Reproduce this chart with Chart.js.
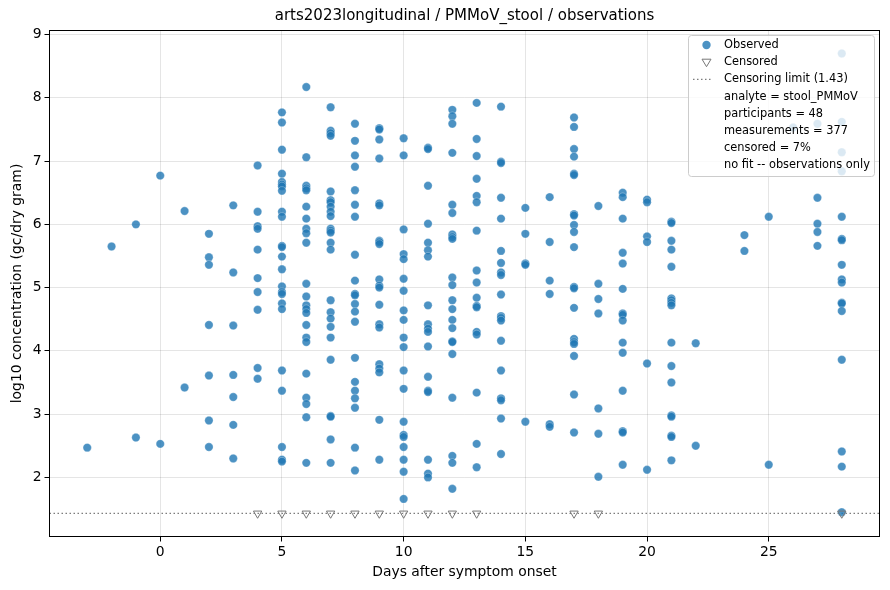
<!DOCTYPE html>
<html><head><meta charset="utf-8">
<script src="https://cdn.jsdelivr.net/npm/chart.js@4.4.0/dist/chart.umd.min.js"></script>
<style>html,body{margin:0;padding:0;background:#fff}#wrap{width:890px;height:590px;position:relative}</style>
</head><body><div id="wrap"><canvas id="c" width="890" height="590"></canvas></div>
<script>
const TITLE = "arts2023longitudinal / PMMoV_stool / observations";
const X_LABEL = "Days after symptom onset";
const Y_LABEL = "log10 concentration (gc/dry gram)";
const X_TICKS = [0, 5, 10, 15, 20, 25];
const Y_TICKS = [2, 3, 4, 5, 6, 7, 8, 9];
const X_RANGE = [-4.55, 29.55];
const Y_RANGE = [1.066, 9.064];
const CENS_LIMIT = 1.43;

// observed measurements (day, log10 value), grouped per day
const obsDay = [];
const obsValue = [];
function addDay(d, vals) { vals.forEach(v => { obsDay.push(d); obsValue.push(v); }); }
addDay(-3, [2.47]);
addDay(-2, [5.65]);
addDay(-1, [6.00, 2.63]);
addDay(0, [6.77, 2.53]);
addDay(1, [6.21, 3.42]);
addDay(2, [5.85, 5.48, 5.36, 4.41, 3.61, 2.90, 2.48]);
addDay(3, [6.30, 5.24, 4.40, 3.62, 3.27, 2.83, 2.30]);
addDay(4, [6.93, 6.20, 5.97, 5.93, 5.60, 5.15, 4.93, 4.65, 3.73, 3.56]);
addDay(5, [7.77, 7.61, 7.18, 6.80, 6.67, 6.63, 6.60, 6.53, 6.20, 6.12, 5.66, 5.64, 5.49, 5.29, 5.02, 4.93, 4.90, 4.75, 4.66, 3.69, 3.37, 2.48, 2.28, 2.25]);
addDay(6, [8.17, 7.06, 6.61, 6.57, 6.54, 6.28, 6.09, 5.93, 5.86, 5.71, 5.06, 4.86, 4.72, 4.66, 4.60, 4.41, 4.21, 4.14, 3.64, 3.26, 3.16, 2.95, 2.23]);
addDay(7, [7.85, 7.48, 7.44, 7.40, 6.52, 6.38, 6.35, 6.28, 6.20, 6.13, 5.93, 5.90, 5.87, 5.71, 5.60, 4.80, 4.61, 4.51, 4.38, 4.21, 3.86, 2.97, 2.96, 2.60, 2.23]);
addDay(8, [7.59, 7.32, 7.09, 6.91, 6.54, 6.31, 6.12, 5.52, 5.11, 4.90, 4.88, 4.74, 4.62, 4.46, 3.89, 3.51, 3.37, 3.25, 3.10, 2.47, 2.11]);
addDay(9, [7.52, 7.50, 7.34, 7.04, 6.33, 6.30, 5.74, 5.72, 5.69, 5.13, 5.03, 5.00, 4.73, 4.42, 4.37, 3.79, 3.72, 3.66, 2.91, 2.28]);
addDay(10, [7.36, 7.09, 5.92, 5.53, 5.45, 5.14, 4.95, 4.64, 4.49, 4.21, 4.06, 3.69, 3.40, 2.88, 2.67, 2.64, 2.48, 2.28, 2.09, 1.66]);
addDay(11, [7.21, 7.19, 6.61, 6.01, 5.71, 5.59, 5.49, 4.72, 4.42, 4.35, 4.30, 4.07, 3.59, 3.37, 3.35, 2.28, 2.06, 2.00]);
addDay(12, [7.81, 7.71, 7.59, 7.13, 6.31, 6.18, 5.84, 5.80, 5.77, 5.16, 5.04, 4.80, 4.66, 4.49, 4.36, 4.15, 4.14, 3.95, 3.26, 2.34, 2.23, 1.82]);
addDay(13, [7.92, 7.35, 7.08, 6.72, 6.45, 6.35, 5.90, 5.27, 5.08, 4.84, 4.71, 4.69, 4.30, 4.26, 3.34, 2.53, 2.16]);
addDay(14, [7.86, 6.99, 6.97, 6.42, 6.09, 5.58, 5.39, 5.24, 5.20, 4.89, 4.55, 4.52, 4.48, 4.16, 3.69, 3.25, 3.22, 2.93, 2.37]);
addDay(15, [6.26, 5.85, 5.38, 5.36, 2.88]);
addDay(16, [6.43, 5.72, 5.11, 4.90, 2.84, 2.80]);
addDay(17, [7.69, 7.54, 7.19, 7.07, 6.80, 6.78, 6.16, 6.14, 5.99, 5.88, 5.64, 5.01, 4.99, 4.68, 4.19, 4.14, 4.11, 3.92, 3.31, 2.71]);
addDay(18, [6.29, 5.06, 4.82, 4.59, 3.09, 2.69, 2.01]);
addDay(19, [6.50, 6.43, 6.09, 5.55, 5.38, 4.98, 4.59, 4.57, 4.48, 4.13, 3.97, 3.37, 2.73, 2.71, 2.20]);
addDay(20, [6.39, 6.35, 5.81, 5.72, 3.80, 2.12]);
addDay(21, [6.04, 6.02, 5.74, 5.60, 5.33, 4.83, 4.80, 4.76, 4.72, 4.13, 3.76, 3.50, 2.98, 2.96, 2.66, 2.64, 2.27]);
addDay(22, [4.12, 2.50]);
addDay(24, [5.83, 5.58]);
addDay(25, [6.12, 2.20]);
addDay(26, [7.53]);
addDay(27, [7.59, 6.42, 6.01, 5.88, 5.66]);
addDay(28, [8.70, 7.62, 7.14, 6.84, 6.12, 5.77, 5.75, 5.36, 5.13, 5.08, 4.76, 4.75, 4.63, 3.86, 2.41, 2.17, 1.45]);

// censored measurements (plotted at the censoring limit)
const censDay = [4, 5, 6, 7, 8, 9, 10, 11, 12, 13, 17, 18, 28];

const LEGEND_LABELS = ["Observed", "Censored", "Censoring limit (1.43)", "analyte = stool_PMMoV",
  "participants = 48", "measurements = 377", "censored = 7%", "no fit -- observations only"];

const BLUE = 'rgba(31,119,180,0.8)';
const GREY = '#777777';
const FONT = "DejaVu Sans";

Chart.defaults.font.family = FONT;

const decorPlugin = {
  id: 'decor',
  afterDraw(chart) {
    const { ctx, chartArea: a } = chart;
    ctx.save();
    // frame
    ctx.strokeStyle = '#000'; ctx.lineWidth = 1;
    ctx.strokeRect(a.left, a.top, a.right - a.left, a.bottom - a.top);
    // title
    ctx.fillStyle = '#000';
    ctx.font = '15px ' + FONT;
    ctx.textAlign = 'center'; ctx.textBaseline = 'middle';
    ctx.fillText(TITLE, (a.left + a.right) / 2, 16);
    // legend box
    const x0 = 688.5, y0 = 35.5, x1 = 874.5, y1 = 176.5, r = 3;
    ctx.beginPath();
    ctx.moveTo(x0 + r, y0);
    ctx.arcTo(x1, y0, x1, y1, r);
    ctx.arcTo(x1, y1, x0, y1, r);
    ctx.arcTo(x0, y1, x0, y0, r);
    ctx.arcTo(x0, y0, x1, y0, r);
    ctx.closePath();
    ctx.fillStyle = 'rgba(255,255,255,0.8)'; ctx.fill();
    ctx.strokeStyle = '#cccccc'; ctx.lineWidth = 1; ctx.stroke();
    const row0 = 45, step = 17.2, tx = 724, mx = 706.5;
    // markers
    ctx.beginPath(); ctx.arc(mx, row0, 4.2, 0, Math.PI * 2);
    ctx.fillStyle = BLUE; ctx.fill();
    let y = row0 + step;
    ctx.beginPath();
    ctx.moveTo(mx - 4.5, y - 3); ctx.lineTo(mx + 4.5, y - 3); ctx.lineTo(mx, y + 4.5); ctx.closePath();
    ctx.strokeStyle = GREY; ctx.lineWidth = 1; ctx.stroke();
    y = row0 + 2 * step;
    ctx.beginPath(); ctx.setLineDash([1.5, 2.5]);
    ctx.moveTo(693, y); ctx.lineTo(713, y);
    ctx.strokeStyle = 'rgba(110,110,110,0.9)'; ctx.lineWidth = 1.3; ctx.stroke();
    ctx.setLineDash([]);
    // texts
    ctx.fillStyle = '#000';
    ctx.font = '11.4px ' + FONT;
    ctx.textAlign = 'left'; ctx.textBaseline = 'middle';
    LEGEND_LABELS.forEach((t, i) => ctx.fillText(t, tx, row0 + i * step));
    ctx.restore();
  }
};

const axisCommon = (ticks) => ({
  type: 'linear',
  afterBuildTicks: s => { s.ticks = ticks.map(v => ({ value: v })); },
  grid: { color: 'rgba(0,0,0,0.1)', lineWidth: 1, tickColor: '#000', tickLength: 5, tickWidth: 1 },
  border: { display: false },
  ticks: { color: '#000', font: { size: 13.9 }, padding: 3, maxRotation: 0, autoSkip: false }
});

new Chart(document.getElementById('c'), {
  type: 'scatter',
  data: {
    datasets: [
      {
        label: 'Censored',
        data: censDay.map(d => ({ x: d, y: CENS_LIMIT })),
        pointStyle: 'triangle', rotation: 180, pointRadius: 4.8,
        backgroundColor: 'rgba(0,0,0,0)', borderColor: GREY, borderWidth: 1,
        order: 0
      },
      {
        label: 'Observed',
        data: obsDay.map((d, i) => ({ x: d, y: obsValue[i] })),
        pointRadius: 4.2, backgroundColor: BLUE,
        borderColor: 'rgba(255,255,255,0.55)', borderWidth: 0.5,
        order: 1
      },
      {
        type: 'line', label: 'Censoring limit',
        data: X_RANGE.map(x => ({ x: x, y: CENS_LIMIT })),
        showLine: true, pointRadius: 0, borderColor: 'rgba(110,110,110,0.9)',
        borderWidth: 1.3, borderDash: [1.5, 2.5], fill: false,
        order: 2
      }
    ]
  },
  options: {
    responsive: false, animation: false,
    layout: { padding: { top: 30.5, right: 10.5, left: 0, bottom: 0 } },
    events: [],
    plugins: { legend: { display: false }, tooltip: { enabled: false }, title: { display: false } },
    scales: {
      x: Object.assign(axisCommon(X_TICKS), {
        min: X_RANGE[0], max: X_RANGE[1],
        afterFit: s => { s.height = 53.5; },
        title: { display: true, text: X_LABEL, color: '#000', font: { size: 13.9 }, padding: { top: 0, bottom: 9.7 } }
      }),
      y: Object.assign(axisCommon(Y_TICKS), {
        min: Y_RANGE[0], max: Y_RANGE[1],
        afterFit: s => { s.width = 49.5; },
        title: { display: true, text: Y_LABEL, color: '#000', font: { size: 13.9 }, padding: { top: 8.7, bottom: 0 } }
      })
    }
  },
  plugins: [decorPlugin]
});
</script></body></html>
